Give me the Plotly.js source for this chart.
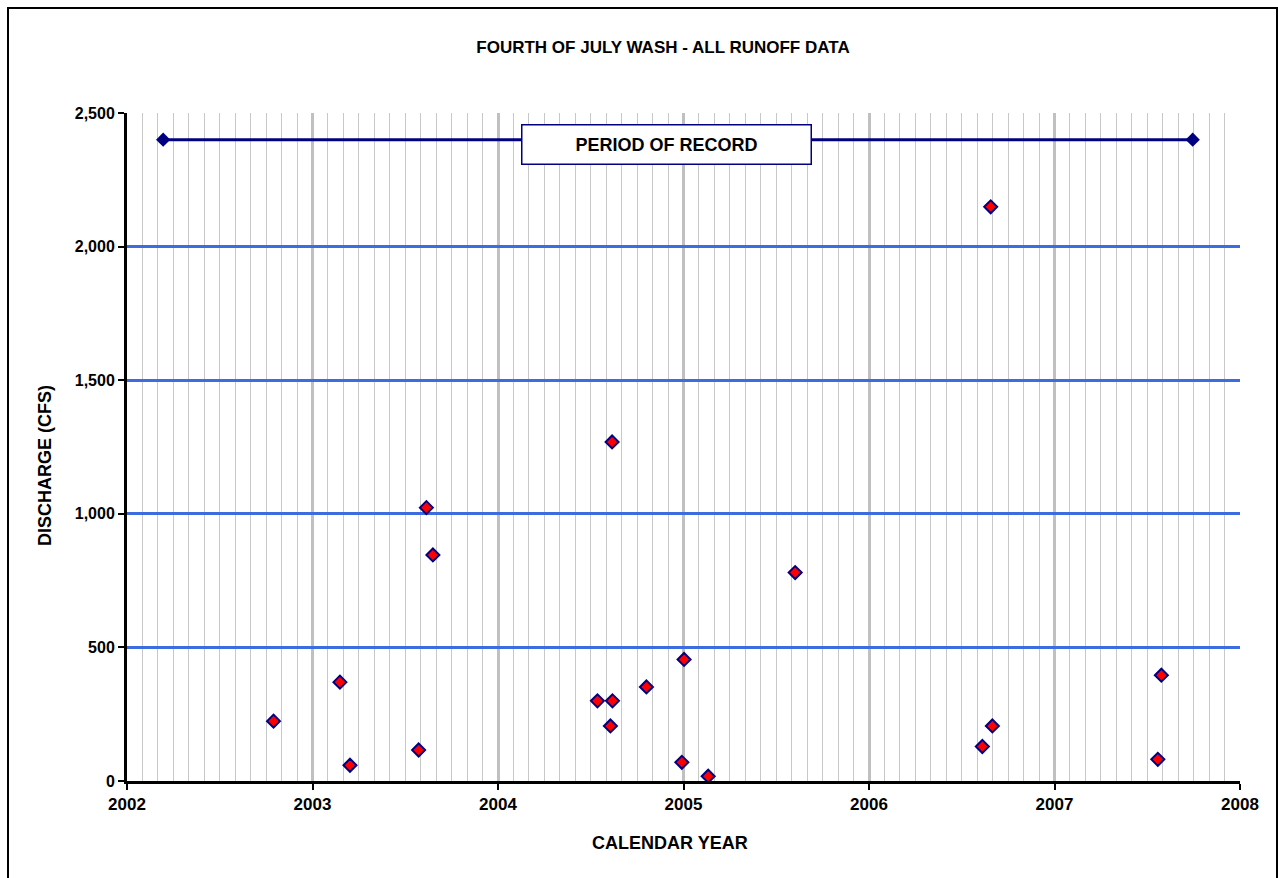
<!DOCTYPE html>
<html>
<head>
<meta charset="utf-8">
<script src="https://cdn.plot.ly/plotly-3.0.1.min.js"></script>
<style>
  html, body { margin: 0; padding: 0; background: #fff; overflow: hidden; }
  #chart { width: 1278px; height: 878px; position: relative; }
  #frame { position: absolute; left: 7px; top: 7px; width: 1267px; height: 890px; border: 2px solid #000; pointer-events: none; }
</style>
</head>
<body>
<div id="chart"></div>
<div id="frame"></div>
<script>
// Runoff events: decimal calendar year and discharge (cfs)
const eventYears = [2002.79, 2003.148, 2003.202, 2003.572, 2003.614, 2003.649,
  2004.536, 2004.606, 2004.615, 2004.617, 2004.800, 2004.991, 2005.003, 2005.133,
  2005.602, 2006.611, 2006.656, 2006.665, 2007.557, 2007.576];
const discharge = [224, 370, 59, 116, 1023, 846,
  300, 206, 1269, 300, 352, 70, 455, 18,
  780, 129, 2149, 206, 81, 396];

// Period of record bar
const recordYears = [2002.195, 2007.745];
const recordLevel = [2400, 2400];
const recordLabel = 'PERIOD OF RECORD';

const chartTitle = 'FOURTH OF JULY WASH - ALL RUNOFF DATA';
const xTitle = 'CALENDAR YEAR';
const yTitle = 'DISCHARGE (CFS)';
const xRange = [2002, 2008];
const yRange = [0, 2500];

const font = 'Liberation Sans, Arial, sans-serif';

const traces = [
  {
    x: recordYears, y: recordLevel, type: 'scatter', mode: 'lines+markers',
    line: {color: '#000080', width: 3},
    marker: {symbol: 'diamond', size: 11, color: '#000080'},
    hoverinfo: 'skip', showlegend: false
  },
  {
    x: eventYears, y: discharge, type: 'scatter', mode: 'markers',
    marker: {symbol: 'diamond', size: 10, color: '#ff0000', line: {color: '#000080', width: 2}},
    showlegend: false
  }
];

const layout = {
  width: 1278, height: 878,
  margin: {l: 127, r: 38, t: 113, b: 97},
  paper_bgcolor: '#ffffff', plot_bgcolor: '#ffffff',
  font: {family: font, color: '#000'},
  title: {text: '<b>' + chartTitle + '</b>', font: {size: 17, family: font, color: '#000'}, x: 663/1278, xanchor: 'center', y: 1 - 47/878, yanchor: 'middle'},
  xaxis: {
    range: xRange, tickmode: 'linear', tick0: 2002, dtick: 1,
    tickformat: 'd',
    showgrid: true, gridcolor: '#c0c0c0', gridwidth: 3,
    minor: {tickmode: 'linear', tick0: 2002, dtick: 1/12, showgrid: true, gridcolor: '#c8c8c8', gridwidth: 1, ticks: ''},
    showline: true, linecolor: '#000', linewidth: 3,
    ticks: 'outside', ticklen: 6, tickwidth: 2, tickcolor: '#000',
    tickfont: {size: 17, family: font, color: '#000', weight: 'bold'},
    zeroline: false
  },
  yaxis: {
    range: yRange, tickmode: 'linear', tick0: 0, dtick: 500,
    tickformat: ',d',
    showgrid: true, gridcolor: '#3d6be0', gridwidth: 3,
    showline: true, linecolor: '#000', linewidth: 3,
    ticks: 'outside', ticklen: 6, tickwidth: 2, tickcolor: '#000',
    tickfont: {size: 16, family: font, color: '#000', weight: 'bold'},
    zeroline: false
  },
  annotations: [
    {
      x: 2004.91, y: 2383, xref: 'x', yref: 'y',
      text: '<b>' + recordLabel + '</b>', showarrow: false,
      font: {size: 18, family: font, color: '#000'},
      bgcolor: '#ffffff', bordercolor: '#000080', borderwidth: 1.5,
      width: 286, height: 36, align: 'center', valign: 'middle'
    },
    {
      x: 670/1278, y: 1 - 843/878, xref: 'paper', yref: 'container',
      xanchor: 'center', yanchor: 'middle',
      text: '<b>' + xTitle + '</b>', showarrow: false,
      font: {size: 18, family: font, color: '#000'}
    },
    {
      xref: 'paper', yref: 'paper',
      x: (45 - 127) / (1278 - 127 - 38), y: (781 - 466) / (781 - 113),
      xanchor: 'center', yanchor: 'middle', textangle: -90,
      text: '<b>' + yTitle + '</b>', showarrow: false,
      font: {size: 18, family: font, color: '#000'}
    }
  ]
};
// x-title annotation uses paper coords for y too (container not supported for annotations)
layout.annotations[1].yref = 'paper';
layout.annotations[1].x = (670 - 127) / (1278 - 127 - 38);
layout.annotations[1].y = (781 - 843) / (781 - 113);

Plotly.newPlot('chart', traces, layout, {displayModeBar: false, staticPlot: true});
</script>
</body>
</html>
